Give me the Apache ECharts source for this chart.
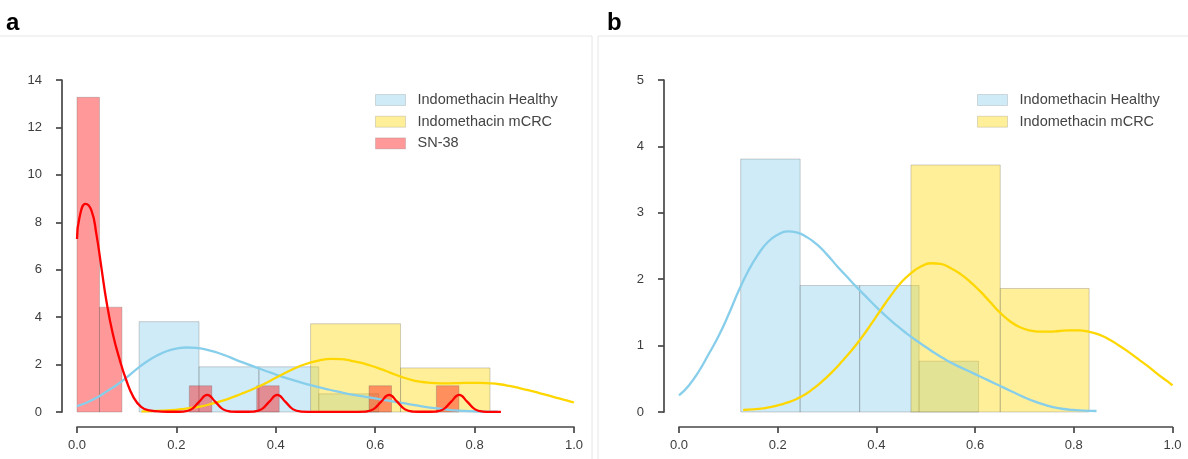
<!DOCTYPE html>
<html>
<head>
<meta charset="utf-8">
<script src="https://cdn.jsdelivr.net/npm/echarts@6/dist/echarts.min.js"></script>
<style>
html,body{margin:0;padding:0;background:#fff;}
#chart{width:1188px;height:459px;}
</style>
</head>
<body>
<div id="chart"></div>
<script>
// ---------- data ----------
const seriesNames = ['Indomethacin Healthy', 'Indomethacin mCRC', 'SN-38'];
const xTicks = [0, 0.2, 0.4, 0.6, 0.8, 1.0];

// histogram bins (density)
const healthyBinLeft   = [0.125, 0.2455, 0.366, 0.4865];
const healthyBinRight  = [0.2455, 0.366, 0.4865, 0.607];
const healthyBinHeight = [3.81, 1.905, 1.905, 0.765];

const mcrcBinLeft   = [0.470, 0.651];
const mcrcBinRight  = [0.651, 0.831];
const mcrcBinHeight = [3.72, 1.86];

const snBinLeft   = [0.000, 0.0452, 0.2260, 0.3616, 0.5876, 0.7232];
const snBinRight  = [0.0452, 0.0904, 0.2712, 0.4068, 0.6328, 0.7684];
const snBinHeight = [13.27, 4.42, 1.106, 1.106, 1.106, 1.106];

// KDE curves (x, density)
const healthyKdeX = [0.00,0.02,0.04,0.06,0.08,0.10,0.12,0.14,0.16,0.18,0.20,0.22,0.24,0.26,0.28,0.30,0.32,0.34,0.36,0.38,0.40,0.42,0.44,0.46,0.48,0.50,0.52,0.54,0.56,0.58,0.60,0.62,0.64,0.66,0.68,0.70,0.72,0.74,0.76,0.78,0.80,0.82,0.846];
const healthyKdeY = [0.25,0.40,0.61,0.87,1.14,1.46,1.81,2.12,2.37,2.56,2.67,2.72,2.70,2.63,2.52,2.37,2.20,2.04,1.88,1.73,1.58,1.44,1.31,1.19,1.08,0.98,0.88,0.79,0.71,0.64,0.57,0.50,0.43,0.36,0.29,0.22,0.16,0.11,0.07,0.045,0.03,0.02,0.015];

const mcrcKdeX = [0.13,0.15,0.17,0.19,0.21,0.23,0.25,0.27,0.29,0.31,0.33,0.35,0.37,0.39,0.41,0.43,0.45,0.47,0.49,0.51,0.53,0.55,0.57,0.59,0.61,0.63,0.65,0.67,0.69,0.71,0.73,0.75,0.77,0.79,0.81,0.83,0.85,0.87,0.89,0.91,0.93,0.95,0.97,0.99,1.00];
const mcrcKdeY = [0.03,0.04,0.055,0.08,0.12,0.17,0.24,0.34,0.46,0.60,0.76,0.93,1.12,1.33,1.55,1.76,1.95,2.09,2.19,2.24,2.23,2.17,2.08,1.96,1.82,1.66,1.50,1.37,1.28,1.23,1.21,1.21,1.22,1.23,1.23,1.21,1.17,1.10,1.01,0.91,0.80,0.69,0.57,0.46,0.40];

const snKdeX = [0.000,0.005,0.017,0.029,0.039,0.049,0.059,0.072,0.086,0.099,0.113,0.129,0.146,0.170,
  0.198,0.214,0.230,0.246,0.262,0.278,0.294,0.310,0.333,
  0.355,0.371,0.387,0.403,0.419,0.435,0.451,0.480,0.515,0.550,
  0.580,0.596,0.612,0.628,0.644,0.660,0.676,0.698,
  0.721,0.737,0.753,0.769,0.785,0.801,0.817,0.835,0.853];
const snKdeY = [7.3,8.2,8.78,8.5,7.5,6.1,4.7,3.3,2.2,1.35,0.65,0.22,0.07,0.02,
  0.01,0.02,0.11,0.44,0.72,0.44,0.11,0.02,0.01,
  0.02,0.11,0.44,0.72,0.44,0.11,0.02,0.005,0.005,0.005,
  0.02,0.11,0.44,0.72,0.44,0.11,0.02,0.01,
  0.02,0.11,0.44,0.72,0.44,0.11,0.02,0.008,0.005];

// ---------- styling ----------
const fills = ['rgba(135,206,235,0.4)', 'rgba(255,215,0,0.4)', 'rgba(255,0,0,0.4)'];
const lines = ['#87CEEB', '#FFD700', '#FF0000'];
const edge = 'rgba(90,90,90,0.28)';
const font = '"Liberation Sans", Arial, sans-serif';
const axisColor = '#474747';

function binsData(l, r, h) { return l.map((v, i) => [v, r[i], h[i]]); }
function kdeData(x, y) { return x.map((v, i) => [v, y[i]]); }

function histSeries(name, idx, data, g) {
  return {
    type: 'custom', name: name, xAxisIndex: g, yAxisIndex: g, z: 2,
    itemStyle: { color: fills[idx] },
    encode: { x: [0, 1], y: 2 },
    data: data,
    renderItem: function (params, api) {
      const p0 = api.coord([api.value(0), api.value(2)]);
      const p1 = api.coord([api.value(1), 0]);
      return {
        type: 'rect',
        shape: { x: p0[0], y: p0[1], width: p1[0] - p0[0], height: p1[1] - p0[1] },
        style: { fill: fills[idx], stroke: edge, lineWidth: 1 }
      };
    }
  };
}
function kdeSeries(name, idx, data, g) {
  return {
    type: 'line', name: name, xAxisIndex: g, yAxisIndex: g, z: 3,
    data: data, showSymbol: false, smooth: 0.5, clip: false,
    lineStyle: { color: lines[idx], width: 2.3 }, itemStyle: { color: lines[idx] }
  };
}

function xAxis(g) {
  return {
    type: 'value', gridIndex: g, min: 0, max: 1, interval: 0.2, offset: 15,
    axisLine: { show: true, onZero: false, lineStyle: { color: axisColor, width: 1.7 } },
    axisTick: { show: true, length: 6, lineStyle: { color: axisColor, width: 1.7 } },
    axisLabel: { color: '#3d3d3d', fontSize: 13, fontFamily: font, margin: 12, formatter: v => v.toFixed(1) },
    splitLine: { show: false }
  };
}
function yAxis(g, max, interval) {
  return {
    type: 'value', gridIndex: g, min: 0, max: max, interval: interval, offset: 15,
    axisLine: { show: true, onZero: false, lineStyle: { color: axisColor, width: 1.7 } },
    axisTick: { show: true, length: 6, lineStyle: { color: axisColor, width: 1.7 } },
    axisLabel: { color: '#3d3d3d', fontSize: 13, fontFamily: font, margin: 20 },
    splitLine: { show: false }
  };
}
function legend(left, names) {
  return {
    orient: 'vertical', left: left, top: 92.5, padding: 0,
    itemWidth: 30, itemHeight: 11, itemGap: 6.7,
    selectedMode: false,
    textStyle: { color: '#444', fontSize: 14.5, fontFamily: font, lineHeight: 15, padding: [0, 0, 0, 7] },
    data: names.map((n, i) => ({ name: n, icon: 'rect', itemStyle: { color: fills[i], borderColor: 'rgba(90,90,90,0.2)', borderWidth: 1 } }))
  };
}

const hData = binsData(healthyBinLeft, healthyBinRight, healthyBinHeight);
const mData = binsData(mcrcBinLeft, mcrcBinRight, mcrcBinHeight);
const sData = binsData(snBinLeft, snBinRight, snBinHeight);
const hK = kdeData(healthyKdeX, healthyKdeY);
const mK = kdeData(mcrcKdeX, mcrcKdeY);
const sK = kdeData(snKdeX, snKdeY);

const chart = echarts.init(document.getElementById('chart'), null, { renderer: 'canvas' });
chart.setOption({
  animation: false,
  backgroundColor: '#fff',
  textStyle: { fontFamily: font },
  grid: [
    { left: 77, top: 80, width: 497, height: 332 },
    { left: 679, top: 80, width: 493.5, height: 332 }
  ],
  xAxis: [xAxis(0), xAxis(1)],
  yAxis: [yAxis(0, 14, 2), yAxis(1, 5, 1)],
  legend: [legend(375, seriesNames), legend(977, seriesNames.slice(0, 2))],
  graphic: [
    { type: 'rect', shape: { x: -1, y: 36, width: 593, height: 425 }, style: { fill: 'none', stroke: '#e6e6e6', lineWidth: 1 }, silent: true, z: -1 },
    { type: 'rect', shape: { x: 598, y: 36, width: 592, height: 425 }, style: { fill: 'none', stroke: '#e6e6e6', lineWidth: 1 }, silent: true, z: -1 },
    { type: 'text', left: 6, top: 11, style: { text: 'a', font: 'bold 24px ' + font, fill: '#000' } },
    { type: 'text', left: 607, top: 11, style: { text: 'b', font: 'bold 24px ' + font, fill: '#000' } }
  ],
  series: [
    histSeries(seriesNames[0], 0, hData, 0),
    histSeries(seriesNames[1], 1, mData, 0),
    histSeries(seriesNames[2], 2, sData, 0),
    kdeSeries('Healthy KDE', 0, hK, 0),
    kdeSeries('mCRC KDE', 1, mK, 0),
    kdeSeries('SN-38 KDE', 2, sK, 0),
    histSeries(seriesNames[0], 0, hData, 1),
    histSeries(seriesNames[1], 1, mData, 1),
    kdeSeries('Healthy KDE b', 0, hK, 1),
    kdeSeries('mCRC KDE b', 1, mK, 1)
  ]
});
</script>
</body>
</html>
